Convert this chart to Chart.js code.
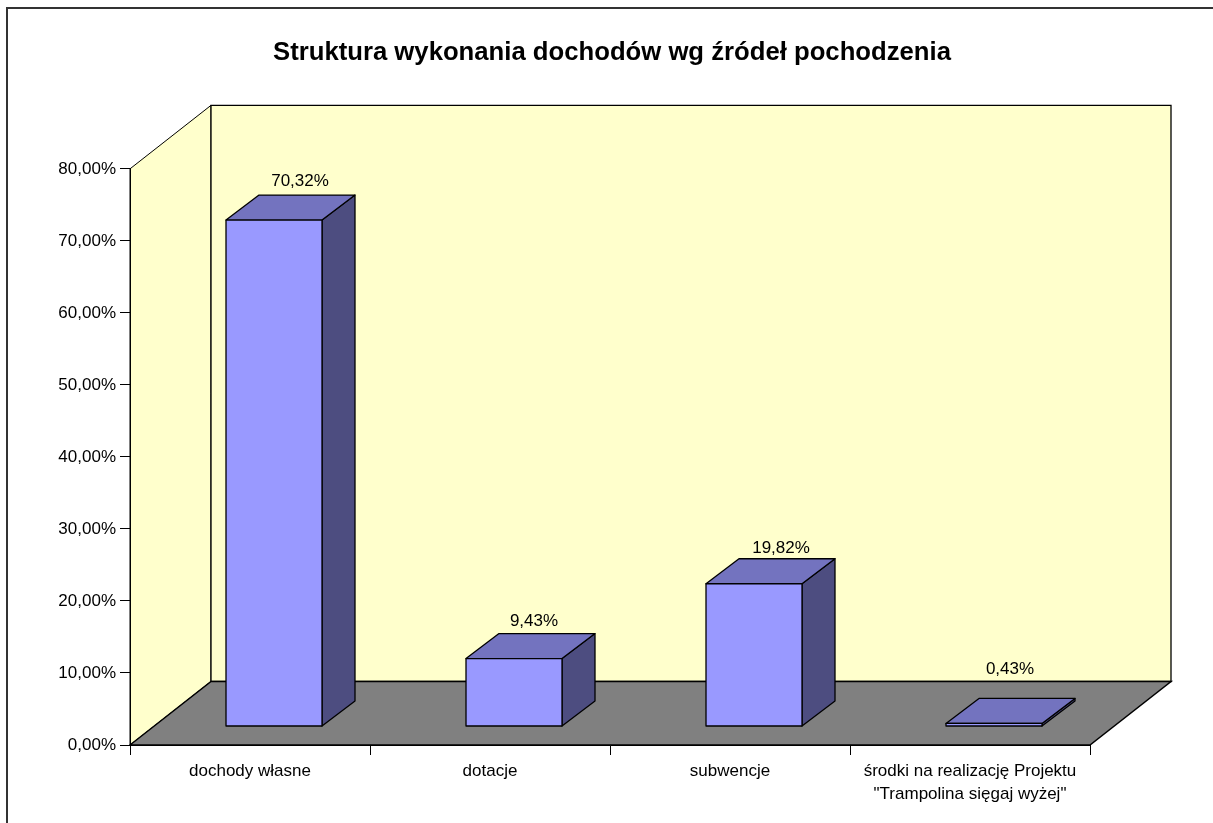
<!DOCTYPE html>
<html>
<head>
<meta charset="utf-8">
<title>Struktura wykonania dochodów</title>
<style>
  html, body { margin: 0; padding: 0; background: #fff; overflow: hidden; }
  canvas { display: block; }
</style>
<script src="https://cdn.jsdelivr.net/npm/chart.js@4/dist/chart.umd.min.js"></script>
</head>
<body>
<canvas id="incomeChart" width="1213" height="823"></canvas>
<script>
const chartTitle = 'Struktura wykonania dochodów wg źródeł pochodzenia';
const categories = ['dochody własne', 'dotacje', 'subwencje', ['środki na realizację Projektu', '"Trampolina sięgaj wyżej"']];
const shares = [70.32, 9.43, 19.82, 0.43];
const yMax = 80;
const yStep = 10;

// excel-style label nudges, measured from the bar's front-face top
const labelDx = [26, 20, 27, 16];
const labelDy = [-38.5, -37.5, -35.5, -54.5];

const fontName = '"Liberation Sans", Arial, sans-serif';
const wallDepth = {x: 81, y: 63.5};
const barShift = {x: 24, y: -18.5};  // front face of the bars sits this far into the floor
const barDepth = {x: 33, y: 25};

const fmtPct = (v, d) => v.toFixed(d).replace('.', ',') + '%';

function poly(ctx, pts, fill) {
  ctx.beginPath();
  pts.forEach((p, i) => i ? ctx.lineTo(p[0], p[1]) : ctx.moveTo(p[0], p[1]));
  ctx.closePath();
  ctx.fillStyle = fill;
  ctx.fill();
  ctx.stroke();
}

const box3d = {
  id: 'box3d',
  afterLayout(chart) {
    // title sits a little right of the plot centre
    chart.titleBlock.left += 4;
  },
  beforeDraw(chart) {
    const {ctx, chartArea: a} = chart;
    const dx = wallDepth.x, dy = wallDepth.y;
    ctx.save();
    ctx.lineJoin = 'miter';
    // outer frame, only its top and left edges are inside the picture
    ctx.strokeStyle = '#333';
    ctx.lineWidth = 2;
    ctx.strokeRect(7, 8, 1400, 1000);
    ctx.strokeStyle = '#000';
    ctx.lineWidth = 1;
    poly(ctx, [[a.left, a.top], [a.left + dx, a.top - dy], [a.left + dx, a.bottom - dy], [a.left, a.bottom]], '#FFFFCC');
    ctx.lineWidth = 1.3;
    poly(ctx, [[a.left + dx, a.top - dy], [a.right + dx, a.top - dy], [a.right + dx, a.bottom - dy], [a.left + dx, a.bottom - dy]], '#FFFFCC');
    ctx.lineWidth = 1.5;
    poly(ctx, [[a.left, a.bottom], [a.left + dx, a.bottom - dy], [a.right + dx, a.bottom - dy], [a.right, a.bottom]], '#808080');
    ctx.restore();
  },
  beforeDatasetDraw(chart, args) {
    const ctx = chart.ctx;
    ctx.save();
    ctx.translate(barShift.x, barShift.y);
    ctx.strokeStyle = '#000';
    ctx.lineWidth = 1.3;
    ctx.lineJoin = 'round';
    const dx = barDepth.x, dy = barDepth.y;
    args.meta.data.forEach(bar => {
      const {x, y, base, width} = bar.getProps(['x', 'y', 'base', 'width'], true);
      const l = x - width / 2, r = x + width / 2;
      poly(ctx, [[r, y], [r + dx, y - dy], [r + dx, base - dy], [r, base]], '#4D4D80');
      poly(ctx, [[l, y], [l + dx, y - dy], [r + dx, y - dy], [r, y]], '#7373BF');
    });
  },
  afterDatasetDraw(chart, args) {
    const ctx = chart.ctx;
    // outline of the front face, still inside the translate from beforeDatasetDraw
    args.meta.data.forEach(bar => {
      const {x, y, base, width} = bar.getProps(['x', 'y', 'base', 'width'], true);
      ctx.strokeRect(x - width / 2, y, width, base - y);
    });
    ctx.restore();
  },
  afterDatasetsDraw(chart) {
    const ctx = chart.ctx;
    const meta = chart.getDatasetMeta(0);
    ctx.save();
    ctx.font = '17px ' + fontName;
    ctx.fillStyle = '#000';
    ctx.textAlign = 'center';
    ctx.textBaseline = 'middle';
    meta.data.forEach((bar, i) => {
      const {x, y} = bar.getProps(['x', 'y'], true);
      ctx.fillText(fmtPct(shares[i], 2), x + barShift.x + labelDx[i], y + barShift.y + labelDy[i]);
    });
    ctx.restore();
  }
};

new Chart(document.getElementById('incomeChart'), {
  type: 'bar',
  data: {
    labels: categories,
    datasets: [{
      data: shares,
      backgroundColor: '#9999FF',
      borderWidth: 0,
      barPercentage: 0.4,
      categoryPercentage: 1,
      clip: false
    }]
  },
  options: {
    responsive: false,
    animation: false,
    layout: {padding: {left: 10, right: 123, top: 0, bottom: 0}},
    plugins: {
      legend: {display: false},
      tooltip: {enabled: false},
      title: {
        display: true,
        text: chartTitle,
        fullSize: false,
        color: '#000',
        font: {family: fontName, size: 25.7, weight: 'bold', lineHeight: 1.2},
        padding: {top: 37, bottom: 101}
      }
    },
    scales: {
      x: {
        afterFit(s) { s.height = 78; },
        grid: {drawOnChartArea: false, drawTicks: true, tickLength: 10, color: '#000'},
        border: {color: '#000', width: 1},
        ticks: {
          color: '#000',
          maxRotation: 0,
          autoSkip: false,
          padding: 4,
          font: {family: fontName, size: 17, lineHeight: 1.4}
        }
      },
      y: {
        min: 0,
        max: yMax,
        afterFit(s) { s.width = 120; },
        grid: {drawOnChartArea: false, drawTicks: true, tickLength: 10, color: '#000'},
        border: {color: '#000', width: 1},
        ticks: {
          stepSize: yStep,
          color: '#000',
          padding: 4,
          font: {family: fontName, size: 17},
          callback: v => fmtPct(v, 2)
        }
      }
    }
  },
  plugins: [box3d]
});
</script>
</body>
</html>
